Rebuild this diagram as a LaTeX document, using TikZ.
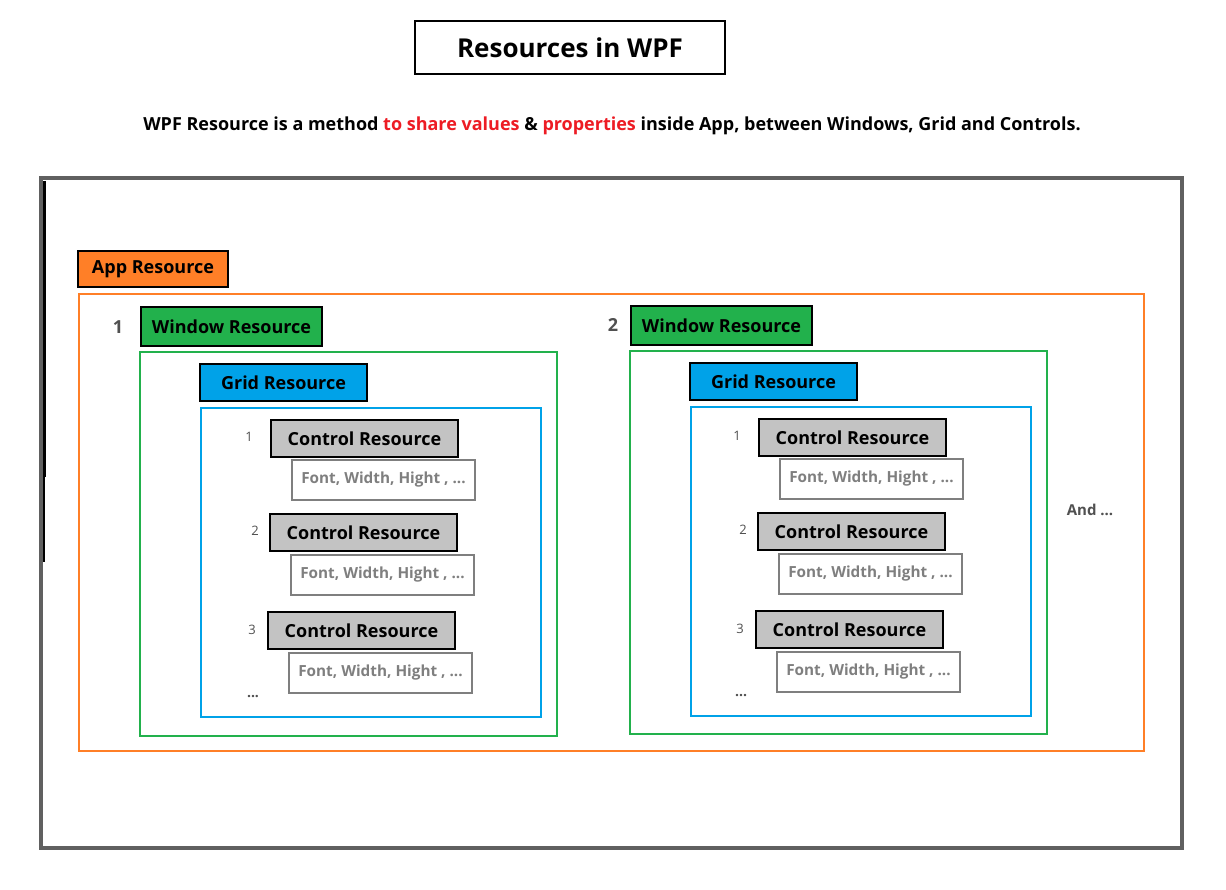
\documentclass[tikz,border=0pt]{standalone}
\usepackage{fontspec}
\setmainfont{Open Sans}
\definecolor{appor}{HTML}{FF7F27}
\definecolor{wingr}{HTML}{22B14C}
\definecolor{gridbl}{HTML}{00A2E8}
\definecolor{ctlgr}{HTML}{C3C3C3}
\definecolor{redtx}{HTML}{ED1C24}
\definecolor{outgr}{HTML}{606060}
\definecolor{propgr}{HTML}{7F7F7F}
\definecolor{numgr}{HTML}{505050}
\begin{document}
\begin{tikzpicture}[x=1pt,y=-1pt,
  lbl/.style={draw=black,line width=2.5pt,anchor=north west,inner sep=0pt,outer sep=0pt,font=\bfseries\fontsize{18}{21}\selectfont},
  applbl/.style={lbl,fill=appor,minimum width=150pt,minimum height=36pt},
  winlbl/.style={lbl,fill=wingr,minimum width=181pt,minimum height=39pt},
  gridlbl/.style={lbl,fill=gridbl,minimum width=167pt,minimum height=37pt},
  ctllbl/.style={lbl,fill=ctlgr,minimum width=187pt,minimum height=37pt},
  propbox/.style={draw=propgr,line width=2.5pt,anchor=north west,inner sep=0pt,outer sep=0pt,minimum width=183pt,minimum height=40pt,text=propgr,font=\bfseries\fontsize{15.3}{18}\selectfont},
  frame/.style={line width=2.5pt,anchor=north west,inner sep=0pt,outer sep=0pt},
  bignum/.style={text=numgr,font=\bfseries\fontsize{18}{21}\selectfont},
  smallnum/.style={text=numgr,font=\fontsize{13}{15}\selectfont},
  dots/.style={text=numgr,font=\bfseries\fontsize{14}{16}\selectfont}
]
\useasboundingbox (0,0) rectangle (1226,890);
\fill[white] (0,0) rectangle (1226,890);
% title
\node[draw=black,line width=2pt,anchor=north west,outer sep=0pt,minimum width=310pt,minimum height=53pt,inner sep=0pt,font=\bfseries\fontsize{26}{30}\selectfont] (title) at (415,21) {Resources in WPF};
\node[font=\bfseries\fontsize{18}{22}\selectfont] (subtitle) at (612,126) {WPF Resource is a method \textcolor{redtx}{to share values} \& \textcolor{redtx}{properties} inside App, between Windows, Grid and Controls.};
% outer frame
\node[frame,draw=outgr,line width=4.5pt,minimum width=1141pt,minimum height=670pt] (outer) at (41,178) {};
\draw[black,line width=3pt] (44.5,181) -- (44.5,477);
\draw[black,line width=1.5pt] (44,477) -- (44,562);
% app
\node[applbl] (app) at (78,251) {App Resource};
\node[frame,draw=appor,minimum width=1065pt,minimum height=457pt] (appframe) at (79,294) {};
% window 1
\node[bignum] (n1) at (118,327) {1};
\node[winlbl] (win1) at (141,307) {Window Resource};
\node[frame,draw=wingr,minimum width=417pt,minimum height=384pt] (winframe1) at (140,352) {};
\node[gridlbl] (grid1) at (200,364) {Grid Resource};
\node[frame,draw=gridbl,minimum width=340pt,minimum height=309pt] (gridframe1) at (201,408) {};
\node[smallnum] (a1) at (249,437) {1};
\node[ctllbl] (ctl11) at (271,420) {Control Resource};
\node[propbox] (prop11) at (292,460) {Font, Width, Hight , ...};
\node[smallnum] (a2) at (255,531) {2};
\node[ctllbl] (ctl12) at (270,514) {Control Resource};
\node[propbox] (prop12) at (291,555) {Font, Width, Hight , ...};
\node[smallnum] (a3) at (252,630) {3};
\node[ctllbl] (ctl13) at (268,612) {Control Resource};
\node[propbox] (prop13) at (289,653) {Font, Width, Hight , ...};
\node[dots] (dots1) at (253,697) {...};
% window 2
\node[bignum] (n2) at (613,325) {2};
\node[winlbl] (win2) at (631,306) {Window Resource};
\node[frame,draw=wingr,minimum width=417pt,minimum height=383pt] (winframe2) at (630,351) {};
\node[gridlbl] (grid2) at (690,363) {Grid Resource};
\node[frame,draw=gridbl,minimum width=340pt,minimum height=309pt] (gridframe2) at (691,407) {};
\node[smallnum] (b1) at (737,436) {1};
\node[ctllbl] (ctl21) at (759,419) {Control Resource};
\node[propbox] (prop21) at (780,459) {Font, Width, Hight , ...};
\node[smallnum] (b2) at (743,530) {2};
\node[ctllbl] (ctl22) at (758,513) {Control Resource};
\node[propbox] (prop22) at (779,554) {Font, Width, Hight , ...};
\node[smallnum] (b3) at (740,629) {3};
\node[ctllbl] (ctl23) at (756,611) {Control Resource};
\node[propbox] (prop23) at (777,652) {Font, Width, Hight , ...};
\node[dots] (dots2) at (741,696) {...};
\node[text=numgr,font=\bfseries\fontsize{15}{18}\selectfont] (andmore) at (1090,510) {And ...};
\end{tikzpicture}
\end{document}
